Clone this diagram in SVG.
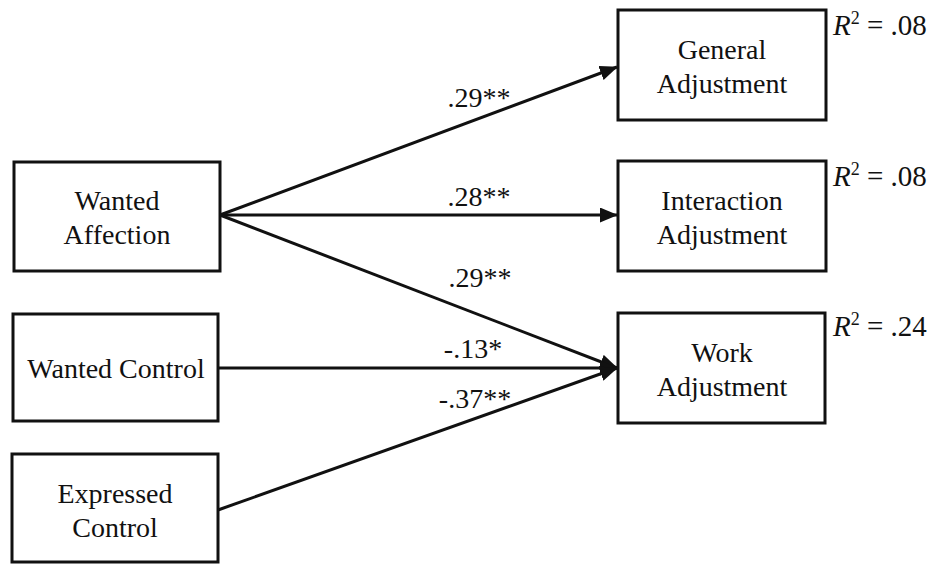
<svg xmlns="http://www.w3.org/2000/svg" width="928" height="565" viewBox="0 0 928 565">
<defs>
<style>
.box{fill:#fff;stroke:#111;stroke-width:3}
.t{font-family:"Liberation Serif","Times New Roman",serif;font-size:28px;fill:#111;text-anchor:middle}
.l{font-family:"Liberation Serif","Times New Roman",serif;font-size:28px;fill:#111;text-anchor:middle}
.r{font-family:"Liberation Serif","Times New Roman",serif;font-size:29px;fill:#111}
.c{stroke:#111;stroke-width:3;fill:none;marker-end:url(#ah)}
</style>
<marker id="ah" markerWidth="6" markerHeight="5" refX="5.7" refY="2.5" orient="auto" markerUnits="strokeWidth">
<path d="M0,0 L6,2.5 L0,5 z" fill="#111"/>
</marker>
</defs>
<rect width="928" height="565" fill="#fff"/>
<g id="connectors">
<line class="c" x1="220" y1="215" x2="617" y2="67"/>
<line class="c" x1="220" y1="215" x2="617" y2="215"/>
<line class="c" x1="220" y1="215" x2="617" y2="368"/>
<line class="c" x1="218" y1="368" x2="617" y2="368"/>
<line class="c" x1="218" y1="510" x2="617" y2="368"/>
<text class="l" x="479" y="107">.29**</text>
<text class="l" x="479" y="206">.28**</text>
<text class="l" x="480" y="287">.29**</text>
<text class="l" x="473" y="358">-.13*</text>
<text class="l" x="475" y="408">-.37**</text>
</g>
<g id="wanted-affection">
<rect class="box" x="14" y="162" width="206" height="109"/>
<text class="t" x="117" y="210">Wanted</text>
<text class="t" x="117" y="244">Affection</text>
</g>
<g id="wanted-control">
<rect class="box" x="13" y="314" width="205" height="107"/>
<text class="t" x="116" y="378">Wanted Control</text>
</g>
<g id="expressed-control">
<rect class="box" x="12" y="454" width="206" height="108"/>
<text class="t" x="115" y="503">Expressed</text>
<text class="t" x="115" y="537">Control</text>
</g>
<g id="general-adjustment">
<rect class="box" x="618" y="10" width="208" height="110"/>
<text class="t" x="722" y="59">General</text>
<text class="t" x="722" y="93">Adjustment</text>
<text class="r" x="833" y="35"><tspan font-style="italic">R</tspan><tspan font-size="18" dy="-11">2</tspan><tspan dy="11"> = .08</tspan></text>
</g>
<g id="interaction-adjustment">
<rect class="box" x="618" y="161" width="208" height="110"/>
<text class="t" x="722" y="210">Interaction</text>
<text class="t" x="722" y="244">Adjustment</text>
<text class="r" x="833" y="186"><tspan font-style="italic">R</tspan><tspan font-size="18" dy="-11">2</tspan><tspan dy="11"> = .08</tspan></text>
</g>
<g id="work-adjustment">
<rect class="box" x="618" y="313" width="207" height="110"/>
<text class="t" x="722" y="362">Work</text>
<text class="t" x="722" y="396">Adjustment</text>
<text class="r" x="833" y="336"><tspan font-style="italic">R</tspan><tspan font-size="18" dy="-11">2</tspan><tspan dy="11"> = .24</tspan></text>
</g>
</svg>
